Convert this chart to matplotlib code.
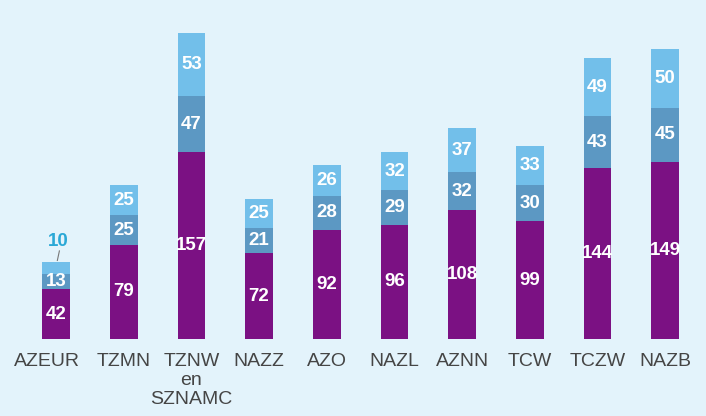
import matplotlib
matplotlib.use("Agg")
import matplotlib.pyplot as plt
import matplotlib.transforms as mtransforms
import numpy as np

categories = ["AZEUR", "TZMN", "TZNW\nen\nSZNAMC", "NAZZ", "AZO", "NAZL", "AZNN", "TCW", "TCZW", "NAZB"]
bottom_vals = [42, 79, 157, 72, 92, 96, 108, 99, 144, 149]
middle_vals = [13, 25, 47, 21, 28, 29, 32, 30, 43, 45]
top_vals = [10, 25, 53, 25, 26, 32, 37, 33, 49, 50]

bg = "#e3f3fb"
c_bottom = "#7b1183"
c_middle = "#5c98c3"
c_top = "#72bfea"

plt.rcParams['font.family'] = ['Liberation Sans', 'DejaVu Sans']

fig = plt.figure(figsize=(7.06, 4.16), dpi=100, facecolor=bg)
ax = fig.add_axes([0, 77/416, 1, 339/416])
ax.set_facecolor(bg)

x = np.arange(len(categories))
w = 0.41
b = np.array(bottom_vals)
m = np.array(middle_vals)
t = np.array(top_vals)
ax.bar(x, b, w, color=c_bottom)
ax.bar(x, m, w, bottom=b, color=c_middle)
ax.bar(x, t, w, bottom=b + m, color=c_top)

fs = 13.5
for i in range(len(categories)):
    ax.text(x[i], b[i] / 2, str(b[i]), ha="center", va="center", color="white",
            fontsize=fs, fontweight="bold")
    ax.text(x[i], b[i] + m[i] / 2, str(m[i]), ha="center", va="center", color="white",
            fontsize=fs, fontweight="bold")
    if i == 0:
        top_y = b[i] + m[i] + t[i]
        ax.plot([x[i] + 0.02, x[i] + 0.05], [top_y + 1, top_y + 9], color="#777777", lw=0.8)
        ax.text(x[i] + 0.03, top_y + 17, str(t[i]), ha="center", va="center", color="#2aa8d6",
                fontsize=fs, fontweight="bold")
    else:
        ax.text(x[i], b[i] + m[i] + t[i] / 2, str(t[i]), ha="center", va="center", color="white",
                fontsize=fs, fontweight="bold")

ax.set_xlim(-56/67.7, (706 - 56)/67.7)
ax.set_ylim(0, 339/1.19)
ax.set_xticks(x)
ax.set_xticklabels(categories, fontsize=14, color="#454545", linespacing=1.15)
ax.tick_params(axis="x", length=0, pad=10)
ax.set_yticks([])
for s in ax.spines.values():
    s.set_visible(False)

lbl0 = ax.get_xticklabels()[0]
lbl0.set_transform(lbl0.get_transform() + mtransforms.ScaledTranslation(-9/100, 0, fig.dpi_scale_trans))

fig.savefig("out.png", dpi=100, facecolor=bg)
